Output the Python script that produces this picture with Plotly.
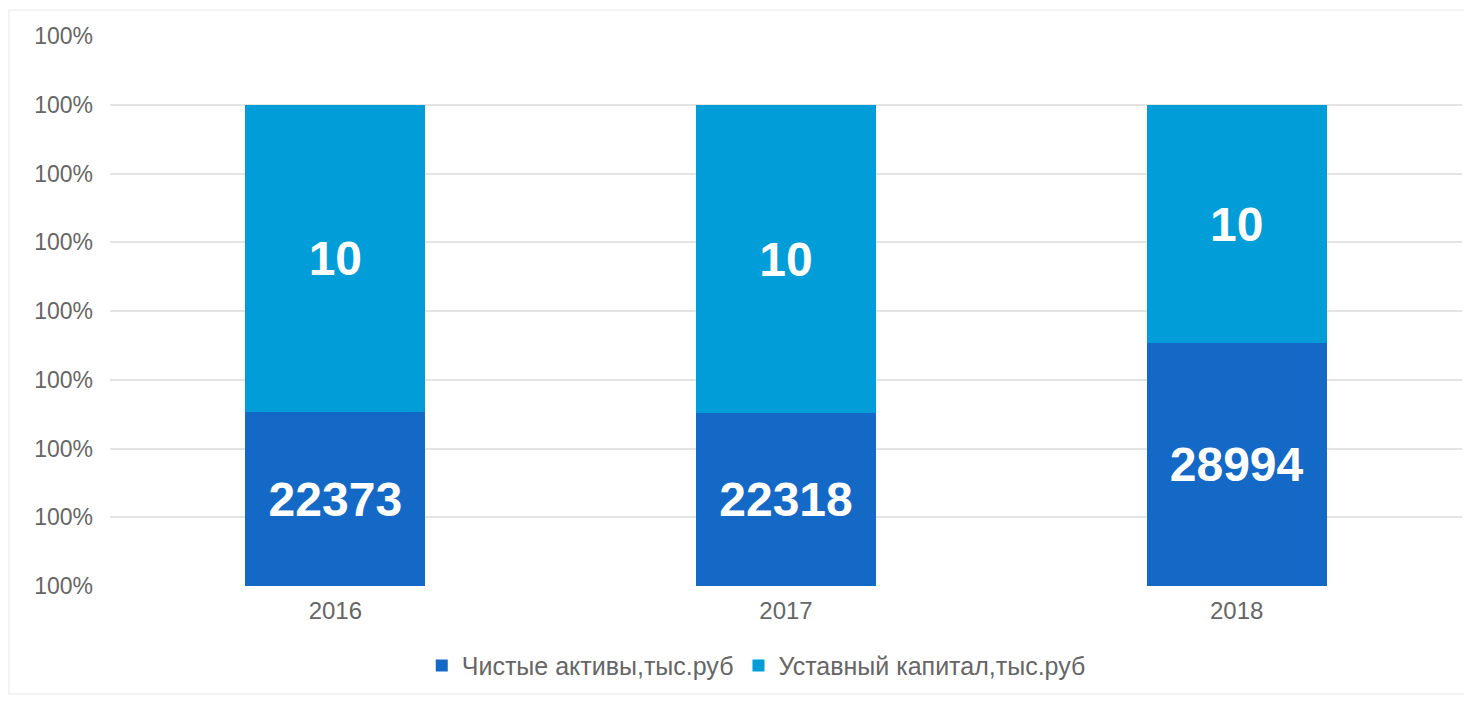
import plotly.graph_objects as go

years = ["2016", "2017", "2018"]
# bar segment heights as drawn in the picture (axis units between gridlines)
net_assets_height = [2.53, 2.51, 3.53]
capital_height = [4.47, 4.49, 3.47]
# values printed on the bars
net_assets_labels = ["22373", "22318", "28994"]
capital_labels = ["10", "10", "10"]
series_names = ["Чистые активы,тыс.руб", "Уставный капитал,тыс.руб"]
y_tick_values = [0, 1, 2, 3, 4, 5, 6, 7, 8]
y_tick_labels = ["100%"] * 9

dark_blue = "#1469C6"
light_blue = "#019DD8"
font_family = "Arial, Liberation Sans, sans-serif"

fig = go.Figure()
fig.add_trace(go.Bar(
    x=years, y=net_assets_height, name=series_names[0],
    marker=dict(color=dark_blue, line=dict(width=0)),
    text=net_assets_labels, textposition="inside", insidetextanchor="middle",
    textangle=0, textfont=dict(color="white", size=48, family=font_family, weight="bold"),
    hoverinfo="skip",
))
fig.add_trace(go.Bar(
    x=years, y=capital_height, name=series_names[1],
    marker=dict(color=light_blue, line=dict(width=0)),
    text=capital_labels, textposition="inside", insidetextanchor="middle",
    textangle=0, textfont=dict(color="white", size=48, family=font_family, weight="bold"),
    hoverinfo="skip",
))

fig.update_layout(
    barmode="stack",
    bargap=0.6,
    width=1472, height=701,
    margin=dict(l=102, r=18, t=28, b=123),
    paper_bgcolor="white", plot_bgcolor="white",
    font=dict(family=font_family, color="#666666"),
    showlegend=True,
    legend=dict(orientation="h", x=0.478, xanchor="center", y=-0.145, yanchor="middle",
                font=dict(size=25, color="#666666"), traceorder="normal",
                itemsizing="constant", itemwidth=30),
    uniformtext=dict(mode=False),
    shapes=[dict(type="rect", xref="paper", yref="paper",
                 x0=-101 / 1352, x1=1.02, y0=-108 / 550, y1=1.047,
                 line=dict(color="#f0f0f0", width=1.5))],
)
fig.update_xaxes(
    showgrid=False, showline=False, zeroline=False,
    tickfont=dict(size=24, color="#666666"), ticks="", ticklabelstandoff=8,
)
fig.update_yaxes(
    range=[0, 8], tickmode="array", tickvals=y_tick_values, ticktext=y_tick_labels,
    showgrid=True, gridcolor="#e4e4e4", gridwidth=1.5, zeroline=False, showline=False,
    tickfont=dict(size=23, color="#666666"), ticklabelstandoff=16,
)

fig.write_html("out.html")
